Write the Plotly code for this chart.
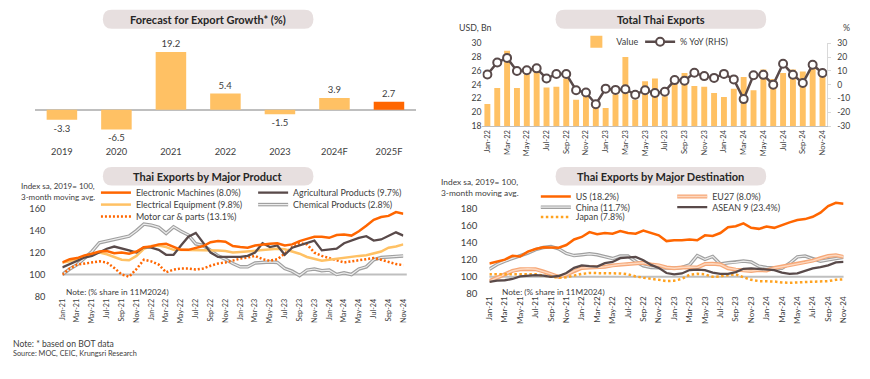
import plotly.graph_objects as go

W, H = 870, 379
def X(px): return px / W
def Y(py): return 1 - py / H

# ---------------- DATA ----------------
years = ['2019', '2020', '2021', '2022', '2023', '2024F', '2025F']
growth = [-3.3, -6.5, 19.2, 5.4, -1.5, 3.9, 2.7]

MONTHS = ['Jan', 'Feb', 'Mar', 'Apr', 'May', 'Jun', 'Jul', 'Aug', 'Sep', 'Oct', 'Nov', 'Dec']
months_22 = [f"{m}-{y}" for y in ('22', '23', '24') for m in MONTHS][:35]
months_21 = [f"{m}-{y}" for y in ('21', '22', '23', '24') for m in MONTHS][:47]

export_value = [21.2, 23.5, 28.9, 23.5, 25.6, 26.0, 23.6, 23.7, 24.9, 21.8, 22.5, 21.7,
                20.6, 22.6, 28.0, 21.8, 24.5, 24.9, 22.3, 24.3, 25.7, 23.8, 23.7, 22.8,
                22.2, 23.4, 25.1, 23.2, 26.2, 24.8, 25.7, 26.2, 25.9, 26.5, 25.4]
export_yoy = [7.3, 16.0, 19.4, 9.9, 10.4, 11.8, 4.4, 7.7, 7.7, -4.0, -5.7, -14.2,
              -2.9, -3.8, -3.3, -7.3, -4.0, -6.0, -5.1, 3.3, 2.9, 8.6, 6.2, 4.9,
              7.8, 3.8, -10.5, 6.8, 7.1, 0.0, 15.1, 7.2, 1.2, 14.4, 8.4]
yoy_ticks = [-30, -20, -10, 0, 10, 20, 30]

electronic = [111, 114, 115, 117.5, 119, 121, 121.5, 119.5, 120, 119, 121, 125, 125.5, 127.5, 128, 125.5,
              122.5, 122.5, 124, 126, 129.5, 130.5, 130, 126, 125, 124.5, 126.5, 127.5, 128, 128.5, 126.5,
              127.5, 130.5, 132.5, 134.5, 134.5, 133.5, 136, 136.5, 135.5, 139.5, 144.5, 150, 152.5, 153.5,
              157, 155.5]
agricultural = [106.5, 109.5, 112.5, 115.5, 117, 120, 123.5, 125.5, 124, 122, 120, 125, 124.5, 122.5, 118,
                118, 126.5, 134.5, 138, 129, 120, 116, 116, 116, 116, 117, 120, 128.5, 125, 126.5, 118,
                124.5, 126.5, 129, 131, 122, 122.5, 123.5, 128.5, 131, 133.5, 135, 131, 132, 135.5, 138.5,
                135.5]
electrical = [111, 112, 114, 117, 119, 120, 118.5, 116, 113.5, 113, 117, 123.5, 126, 126.5, 125, 122.5, 122.5,
              122.5, 122, 122, 122.5, 122, 121.5, 120, 120.5, 121, 121.5, 122, 123, 123.5, 123, 121, 119, 116,
              114, 112.5, 113.5, 114.5, 115.5, 116.5, 117, 117.5, 119, 121, 124.5, 125.5, 127.5]
chemical = [100, 105, 109, 115, 121, 129, 130.5, 132.5, 134, 135, 140, 146, 145, 143, 137.5, 143.5, 139.5, 136,
            128, 126.5, 122, 117, 114, 110, 107, 107, 110.5, 111, 111.5, 111, 105.5, 103, 99, 104, 105, 103.5,
            104, 100, 101.5, 100, 105, 107, 113.5, 115.5, 116, 116.5, 117]
motor = [100, 105.5, 109, 110, 111, 112, 111, 106, 100, 98, 105, 113.5, 112, 109, 102, 104.5, 105.5, 105.5,
         104.5, 105.5, 108, 110, 111, 113, 114.5, 115.5, 117, 114, 112.5, 114, 119, 125, 128.5, 127.5, 120,
         117, 115, 113.5, 111, 112, 113, 114, 115, 113.5, 111.5, 109.5, 108.5]

us = [115.6, 117.5, 120.2, 124.8, 124, 129.7, 132.8, 134.7, 134.3, 134.3, 137.4, 143.9, 146.9, 152.6, 150,
      151.5, 150.7, 153.8, 151.5, 150.7, 154.5, 151.9, 148.8, 142, 143, 143, 143.9, 143, 148.8, 148, 151.5,
      158.4, 159.5, 162.9, 157.6, 156.4, 159.1, 157.6, 161, 164, 166.7, 167.9, 170.6, 175.5, 183.1, 187, 185.8]
eu27 = [95, 99, 103.5, 107, 109, 109.5, 109, 106.5, 103.5, 100, 102.5, 107, 110.5, 111, 111, 112, 113.5, 114.5,
        115, 115.5, 116.5, 114.5, 113.5, 111, 110, 111, 111.5, 111, 115, 115.5, 114.5, 110, 108.5, 107.5, 107,
        108, 107.5, 110.5, 112, 113.5, 115, 117, 119, 122, 124.5, 125.5, 123.5]
china = [109, 114.5, 118.5, 121.5, 124.5, 128, 132, 134.5, 135.5, 133, 127.5, 125, 126, 127, 126, 123.5, 121.5,
         124.5, 124.5, 118, 113, 111, 110.5, 110, 110, 111, 114, 125, 120.5, 124, 115, 116.5, 117, 118.5, 117.5,
         112.5, 111, 110.5, 110, 116, 123.5, 124.5, 121, 118.5, 120, 121.5, 123]
asean9 = [94, 95.5, 96, 97.5, 100.5, 101.5, 102, 101.5, 100, 101, 104.5, 110.5, 113.5, 112.5, 112, 116, 117.5,
          122, 123, 123.5, 119.5, 114, 110.5, 104.5, 103, 104, 108, 108.5, 108, 105, 103.5, 103.5, 105.5, 109.5,
          110, 109.5, 109, 108, 105, 103.5, 104, 107, 110, 111.5, 113.5, 117, 117.5]
japan = [103, 103, 102.5, 102.5, 103, 103, 103, 101.5, 100, 99, 99.5, 101.5, 103.5, 104.5, 104.5, 104, 104, 104,
         103, 100.5, 99, 98, 96.5, 95, 95.5, 97.5, 102.5, 103.5, 103, 100, 100.5, 102, 103, 99.5, 96.5, 95, 95,
         94.5, 93.5, 93, 93.5, 94, 94.5, 94.5, 95, 96.5, 97]

# ---------------- STYLE ----------------
FONT = 'Lato'
TXT = '#404040'
LIGHT = '#FFC164'
ORANGE = '#FF6600'
BROWN = '#594A4A'
GRAY = '#A0A0A0'
GRAY_IN = '#EDEDED'
SALMON = '#F6A878'
SALMON_IN = '#FDD8BF'
GOLD = '#FFA21F'

fig = go.Figure()

# Top-left: forecast bars
fig.add_trace(go.Bar(
    x=years, y=growth, width=0.56,
    marker=dict(color=[LIGHT] * 6 + [ORANGE], line=dict(width=0)),
    text=[f"{v:.1f}" for v in growth], textposition='outside', cliponaxis=False,
    textfont=dict(family=FONT, size=9.5, color=TXT), constraintext='none',
    xaxis='x', yaxis='y', showlegend=False, hoverinfo='x+y'))

# Top-right: total exports
fig.add_trace(go.Bar(
    x=months_22, y=export_value, width=0.6, name='Value',
    marker=dict(color=LIGHT, line=dict(width=0)),
    xaxis='x2', yaxis='y2', legend='legend'))
fig.add_trace(go.Scatter(
    x=months_22, y=export_yoy, name='% YoY (RHS)', mode='lines+markers',
    line=dict(color=BROWN, width=2.5),
    marker=dict(size=8, color='white', line=dict(color=BROWN, width=2)),
    xaxis='x2', yaxis='y3', legend='legend2'))

def line(x, y, name, color, width, ax, ay, leg, dash=None):
    return go.Scatter(x=x, y=y, name=name, mode='lines',
                      line=dict(color=color, width=width, dash=dash),
                      xaxis=ax, yaxis=ay, legend=leg, hoverinfo='name+x+y')

# Bottom-left: by product
fig.add_trace(line(months_21, chemical, 'Chemical Products (2.8%)', GRAY, 3.5, 'x3', 'y4', 'legend6'))
fig.add_trace(line(months_21, chemical, 'Chemical Products (2.8%)', GRAY_IN, 1.2, 'x3', 'y4', 'legend7'))
fig.add_trace(line(months_21, motor, 'Motor car & parts (13.1%)', ORANGE, 2.5, 'x3', 'y4', 'legend8', dash='2px,2px'))
fig.add_trace(line(months_21, electrical, 'Electrical Equipment (9.8%)', LIGHT, 2.5, 'x3', 'y4', 'legend5'))
fig.add_trace(line(months_21, agricultural, 'Agricultural Products (9.7%)', BROWN, 2.3, 'x3', 'y4', 'legend4'))
fig.add_trace(line(months_21, electronic, 'Electronic Machines (8.0%)', ORANGE, 2.5, 'x3', 'y4', 'legend3'))

# Bottom-right: by destination
fig.add_trace(line(months_21, china, 'China (11.7%)', GRAY, 3.5, 'x4', 'y5', 'legend12'))
fig.add_trace(line(months_21, china, 'China (11.7%)', GRAY_IN, 1.2, 'x4', 'y5', 'legend13'))
fig.add_trace(line(months_21, eu27, 'EU27 (8.0%)', SALMON, 4, 'x4', 'y5', 'legend10'))
fig.add_trace(line(months_21, eu27, 'EU27 (8.0%)', SALMON_IN, 1.5, 'x4', 'y5', 'legend11'))
fig.add_trace(line(months_21, japan, 'Japan (7.8%)', GOLD, 2.5, 'x4', 'y5', 'legend15', dash='2.5px,2.5px'))
fig.add_trace(line(months_21, asean9, 'ASEAN 9 (23.4%)', BROWN, 2.3, 'x4', 'y5', 'legend14'))
fig.add_trace(line(months_21, us, 'US (18.2%)', ORANGE, 2.5, 'x4', 'y5', 'legend9'))

# ---------------- AXES ----------------
zero_py, ppu = 107.7, 3.09
tl_top, tl_bot = 28, 143
layout = dict(
    width=W, height=H, autosize=False,
    margin=dict(l=0, r=0, t=0, b=0),
    paper_bgcolor='white', plot_bgcolor='white',
    font=dict(family=FONT, color=TXT, size=9),
    hovermode='closest',
    xaxis=dict(domain=[X(30), X(416)], anchor='y', type='category', range=[-0.5, 6.5],
               showgrid=False, zeroline=False, showline=False, ticks='',
               tickfont=dict(family=FONT, size=9.3, color=TXT)),
    yaxis=dict(domain=[Y(tl_bot), Y(tl_top)], anchor='x',
               range=[-(tl_bot - zero_py) / ppu, (zero_py - tl_top) / ppu],
               showgrid=False, showticklabels=False, ticks='', showline=False,
               zeroline=True, zerolinecolor='#BFBFBF', zerolinewidth=2),
    xaxis2=dict(domain=[X(483), X(832)], anchor='y2', type='category', range=[-0.5, 34.5],
                tickmode='array', tickvals=months_22[::2], ticktext=months_22[::2],
                tickangle=-90, tickfont=dict(family=FONT, size=7.6, color=TXT),
                showgrid=False, zeroline=False, showline=True, linecolor='#BFBFBF', linewidth=1,
                ticks=''),
    yaxis2=dict(domain=[Y(124.3), Y(39.3)], anchor='x2', range=[18, 30], dtick=2, tick0=18,
                showgrid=False, zeroline=False, showline=False, ticks='',
                tickfont=dict(family=FONT, size=8.6, color=TXT)),
    yaxis3=dict(overlaying='y2', anchor='x2', side='right', range=[-30, 30],
                tickmode='array', tickvals=yoy_ticks, ticktext=[str(v) for v in yoy_ticks],
                showgrid=False, zeroline=False, showline=True, linecolor='#D9D9D9',
                ticks='outside', ticklen=3, tickcolor='#D9D9D9',
                ticklabelstandoff=4, tickfont=dict(family=FONT, size=8.6, color=TXT)),
    xaxis3=dict(domain=[X(58), X(403)], anchor='y4', type='category', range=[0, 46],
                tickmode='array', tickvals=months_21[::2], ticktext=months_21[::2],
                tickangle=-90, tickfont=dict(family=FONT, size=7.2, color=TXT),
                showgrid=False, zeroline=False, showline=False, ticks=''),
    yaxis4=dict(domain=[Y(299.3), Y(205)], anchor='x3', range=[80, 160 + (209.3 - 205) / 1.125],
                tickmode='array', tickvals=[80, 100, 120, 140, 160],
                showgrid=False, zeroline=False, showline=False, ticks='',
                ticklabelstandoff=16, tickfont=dict(family=FONT, size=9.2, color=TXT)),
    xaxis4=dict(domain=[X(490), X(848.3)], anchor='y5', type='category', range=[0, 46],
                tickmode='array', tickvals=months_21[::2], ticktext=months_21[::2],
                tickangle=-90, tickfont=dict(family=FONT, size=8, color=TXT),
                showgrid=False, zeroline=False, showline=False, ticks=''),
    yaxis5=dict(domain=[Y(296.7), Y(200)], anchor='x4', range=[80, 180 + 9.3 / 0.874],
                tickmode='array', tickvals=[80, 100, 120, 140, 160, 180],
                showgrid=False, zeroline=False, showline=False, ticks='',
                ticklabelstandoff=11, tickfont=dict(family=FONT, size=9.6, color=TXT)),
)

# ---------------- LEGENDS ----------------
def leg(text_x, cy, size=8.9, clear=False):
    return dict(x=X(text_x - 40), y=Y(cy), xanchor='left', yanchor='middle',
                orientation='h', bgcolor='rgba(0,0,0,0)', borderwidth=0, itemwidth=30,
                font=dict(family=FONT, size=size, color='rgba(0,0,0,0)' if clear else TXT))

layout['legend'] = leg(618, 37.7, 9)
layout['legend2'] = leg(682.5, 37.7, 9)
layout['legend3'] = leg(132, 192.7)
layout['legend4'] = leg(291, 192.7)
layout['legend5'] = leg(132, 205)
layout['legend6'] = leg(291, 205)
layout['legend7'] = leg(291, 205, clear=True)
layout['legend8'] = leg(132, 217.3)
layout['legend9'] = leg(577, 196.7)
layout['legend10'] = leg(715, 196.7)
layout['legend11'] = leg(715, 196.7, clear=True)
layout['legend12'] = leg(577, 207.7)
layout['legend13'] = leg(577, 207.7, clear=True)
layout['legend14'] = leg(715, 207.7)
layout['legend15'] = leg(577, 217.7)

fig.update_layout(**layout)

# ---------------- SHAPES / ANNOTATIONS ----------------
def pill(x0, y0, x1, y1, r=9):
    ym = (y0 + y1) / 2
    pts = (f"M{X(x0 + r)},{Y(y0)} L{X(x1 - r)},{Y(y0)} Q{X(x1)},{Y(y0)} {X(x1)},{Y(ym)} "
           f"Q{X(x1)},{Y(y1)} {X(x1 - r)},{Y(y1)} L{X(x0 + r)},{Y(y1)} Q{X(x0)},{Y(y1)} {X(x0)},{Y(ym)} "
           f"Q{X(x0)},{Y(y0)} {X(x0 + r)},{Y(y0)} Z")
    return dict(type='path', xref='paper', yref='paper', path=pts,
                fillcolor='#E7DFDF', line=dict(width=0), layer='below')

shapes = [pill(99, 5, 312, 24.5), pill(557, 5, 770, 24.5),
          pill(99, 166.5, 312, 185.5), pill(557, 166.5, 770, 185.5),
          dict(type='line', xref='x3 domain', yref='y4', x0=0, x1=1.01, y0=100, y1=100,
               line=dict(color='#BFBFBF', width=2), layer='below'),
          dict(type='line', xref='x4 domain', yref='y5', x0=0, x1=1.0, y0=100, y1=100,
               line=dict(color='#BFBFBF', width=2), layer='below')]

def ann(text, x, y, size, anchor='left', bold=False, color=TXT):
    return dict(text=text, x=X(x), y=Y(y), xref='paper', yref='paper', xanchor=anchor,
                yanchor='middle', showarrow=False,
                font=dict(family=FONT, size=size, color=color, weight='bold' if bold else 'normal'))

annotations = [
    ann('Forecast for Export Growth* (%)', 205.5, 15, 11, 'center', True, '#262626'),
    ann('Total Thai Exports', 663.5, 15, 11, 'center', True, '#262626'),
    ann('Thai Exports by Major Product', 205.5, 176.5, 11, 'center', True, '#262626'),
    ann('Thai Exports by Major Destination', 663.5, 176.5, 11, 'center', True, '#262626'),
    ann('USD, Bn', 457, 23.3, 8.8),
    ann('%', 846, 23.3, 8.8),
    ann('Index sa, 2019= 100,', 14, 186, 8),
    ann('3-month moving avg.', 14, 196.7, 8),
    ann('Index sa, 2019= 100,', 439, 181.7, 8.4),
    ann('3-month moving avg.', 439, 193, 8.4),
    ann('Note: (% share in 11M2024)', 60, 295, 8.3),
    ann('Note: (% share in 11M2024)', 501, 295, 8.3),
    ann('Note: * based on BOT data', 6, 347.7, 8.6),
    ann('Source: MOC, CEIC, Krungsri Research', 6, 357.7, 7.3),
]

fig.update_layout(shapes=shapes, annotations=annotations)
fig.write_html("out.html", config={'displayModeBar': False},
               post_script="document.body.style.margin='0px';document.body.style.padding='0px';")
